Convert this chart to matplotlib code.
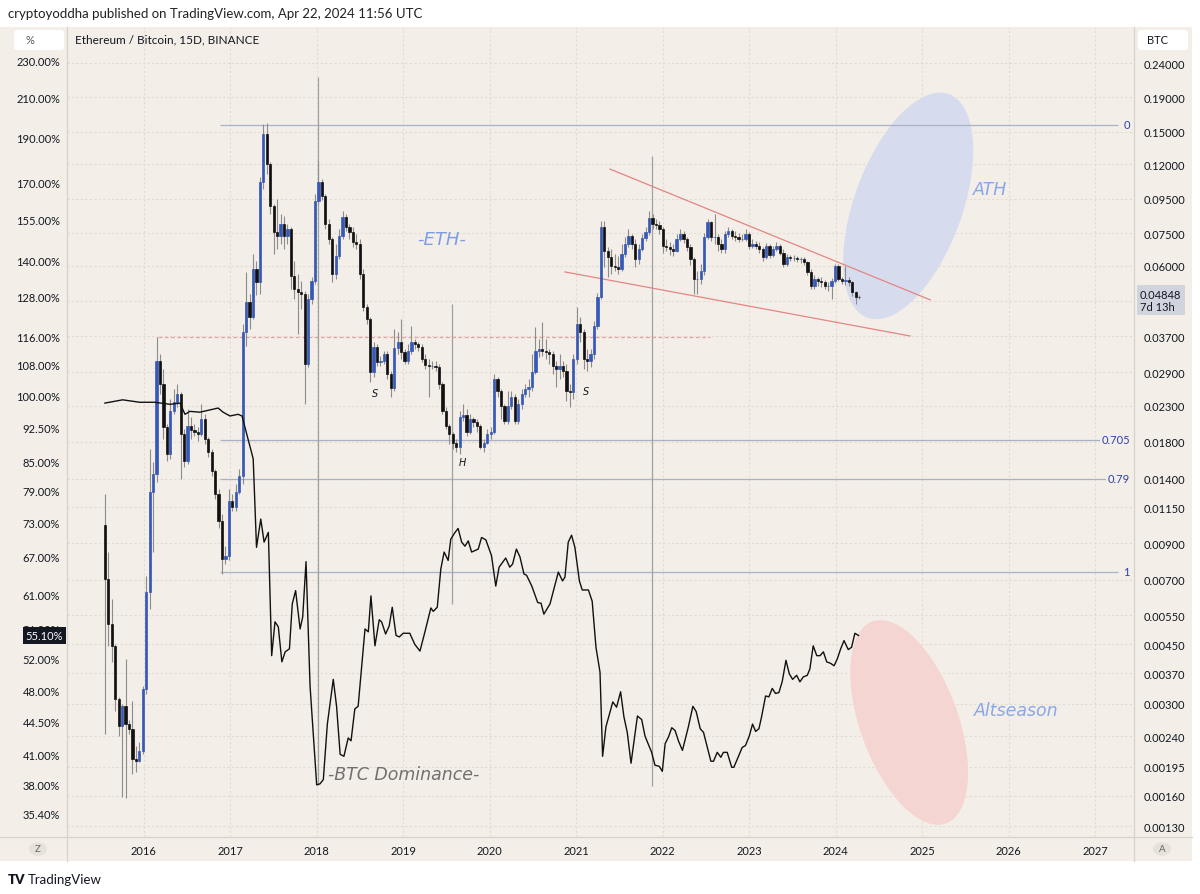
import numpy as np
import pandas as pd
import matplotlib
matplotlib.use("Agg")
import matplotlib.pyplot as plt
import matplotlib.dates as mdates
from matplotlib.patches import Ellipse, Rectangle, FancyBboxPatch, Circle
from matplotlib.lines import Line2D
from matplotlib.ticker import FixedLocator, NullLocator, FixedFormatter
from matplotlib.transforms import ScaledTranslation, blended_transform_factory

plt.rcParams['font.family'] = ['Lato', 'DejaVu Sans']

# ETH/BTC 15D candles (BTC)
first_open = 0.0102
close = [0.00705, 0.00518, 0.00446, 0.00310, 0.00258, 0.00296, 0.00262, 0.00253, 0.00206, 0.00203,
         0.00217, 0.00332, 0.00646, 0.0128, 0.0144, 0.0313, 0.0267, 0.0199, 0.0165, 0.0222,
         0.0236, 0.0249, 0.0190, 0.0158, 0.0200, 0.0195, 0.0193, 0.0190, 0.0210, 0.0183,
         0.0168, 0.0147, 0.0126, 0.0105, 0.00809, 0.00825, 0.0120, 0.0115, 0.0128, 0.0142,
         0.0381, 0.0468, 0.0423, 0.0587, 0.0537, 0.1063, 0.1476, 0.1203, 0.0902, 0.0755,
         0.0735, 0.0798, 0.0735, 0.0771, 0.0559, 0.0512, 0.0502, 0.0494, 0.0306, 0.0478,
         0.0540, 0.0934, 0.1063, 0.0967, 0.0798, 0.0720, 0.0567, 0.0641, 0.0735, 0.0838,
         0.0782, 0.0755, 0.0706, 0.0696, 0.0567, 0.0452, 0.0417, 0.0290, 0.0344, 0.0310,
         0.0313, 0.0328, 0.0286, 0.0260, 0.0341, 0.0356, 0.0332, 0.0313, 0.0334, 0.0356,
         0.0351, 0.0344, 0.0317, 0.0304, 0.0302, 0.0302, 0.0300, 0.0267, 0.0222, 0.0200,
         0.0190, 0.0179, 0.0174, 0.0213, 0.0216, 0.0192, 0.0210, 0.0206, 0.0200, 0.0174,
         0.0179, 0.0190, 0.0193, 0.0276, 0.0254, 0.0230, 0.0207, 0.0230, 0.0245, 0.0207,
         0.0233, 0.0249, 0.0258, 0.0262, 0.0290, 0.0334, 0.0339, 0.0334, 0.0332, 0.0328,
         0.0302, 0.0296, 0.0302, 0.0292, 0.0254, 0.0253, 0.0317, 0.0403, 0.0381, 0.0317,
         0.0313, 0.0328, 0.0397, 0.0485, 0.0782, 0.0664, 0.0637, 0.0599, 0.0595, 0.0587,
         0.0650, 0.0696, 0.0735, 0.0696, 0.0628, 0.0673, 0.0725, 0.0755, 0.0832, 0.0798,
         0.0793, 0.0771, 0.0688, 0.0683, 0.0673, 0.0664, 0.0720, 0.0745, 0.0720, 0.0683,
         0.0628, 0.0548, 0.0548, 0.0579, 0.0730, 0.0810, 0.0730, 0.0730, 0.0696, 0.0673,
         0.0745, 0.0760, 0.0735, 0.0730, 0.0720, 0.0720, 0.0745, 0.0688, 0.0696, 0.0688,
         0.0673, 0.0637, 0.0688, 0.0646, 0.0673, 0.0688, 0.0655, 0.0607, 0.0637, 0.0632,
         0.0632, 0.0628, 0.0628, 0.0615, 0.0575, 0.0522, 0.0548, 0.0540, 0.0537, 0.0522,
         0.0522, 0.0540, 0.0599, 0.0548, 0.0540, 0.0544, 0.0537, 0.0502, 0.0485, 0.04848]
high = [0.0126, 0.00848, 0.00615, 0.00452, 0.00314, 0.00300, 0.00408, 0.00268, 0.00306, 0.00225,
        0.00231, 0.00339, 0.00721, 0.0171, 0.0157, 0.0368, 0.0328, 0.0296, 0.0203, 0.0241,
        0.0258, 0.0267, 0.0253, 0.0196, 0.0225, 0.0213, 0.0203, 0.0199, 0.0233, 0.0218,
        0.0186, 0.0171, 0.0149, 0.0130, 0.0110, 0.00880, 0.0130, 0.0126, 0.0135, 0.0149,
        0.0403, 0.0573, 0.0494, 0.0650, 0.0619, 0.1101, 0.1580, 0.1590, 0.1220, 0.0915,
        0.0947, 0.0855, 0.0843, 0.0798, 0.0782, 0.0619, 0.0567, 0.0540, 0.0505, 0.0494,
        0.0556, 0.0980, 0.1228, 0.1085, 0.0980, 0.0826, 0.0730, 0.0696, 0.0771, 0.0872,
        0.0855, 0.0798, 0.0782, 0.0745, 0.0720, 0.0587, 0.0462, 0.0423, 0.0356, 0.0351,
        0.0324, 0.0334, 0.0334, 0.0292, 0.0389, 0.0381, 0.0417, 0.0339, 0.0351, 0.0397,
        0.0363, 0.0356, 0.0351, 0.0328, 0.0317, 0.0313, 0.0313, 0.0306, 0.0270, 0.0228,
        0.0203, 0.0193, 0.0183, 0.0222, 0.0233, 0.0225, 0.0218, 0.0213, 0.0210, 0.0203,
        0.0183, 0.0196, 0.0199, 0.0286, 0.0280, 0.0258, 0.0233, 0.0254, 0.0254, 0.0249,
        0.0241, 0.0258, 0.0267, 0.0276, 0.0328, 0.0394, 0.0363, 0.0408, 0.0363, 0.0339,
        0.0334, 0.0313, 0.0328, 0.0313, 0.0306, 0.0267, 0.0328, 0.0452, 0.0423, 0.0389,
        0.0339, 0.0339, 0.0411, 0.0498, 0.0815, 0.0815, 0.0683, 0.0673, 0.0650, 0.0641,
        0.0696, 0.0730, 0.0771, 0.0745, 0.0720, 0.0696, 0.0745, 0.0782, 0.0872, 0.0855,
        0.0826, 0.0815, 0.0782, 0.0720, 0.0706, 0.0696, 0.0745, 0.0771, 0.0760, 0.0730,
        0.0696, 0.0637, 0.0579, 0.0607, 0.0750, 0.0826, 0.0815, 0.0855, 0.0745, 0.0720,
        0.0760, 0.0782, 0.0771, 0.0760, 0.0750, 0.0745, 0.0771, 0.0755, 0.0720, 0.0711,
        0.0706, 0.0683, 0.0701, 0.0696, 0.0688, 0.0706, 0.0696, 0.0673, 0.0650, 0.0646,
        0.0646, 0.0641, 0.0637, 0.0637, 0.0619, 0.0587, 0.0563, 0.0556, 0.0556, 0.0544,
        0.0537, 0.0552, 0.0607, 0.0607, 0.0556, 0.0599, 0.0556, 0.0540, 0.0505, 0.0491]
low = [0.00244, 0.00446, 0.00400, 0.00286, 0.00240, 0.00159, 0.00158, 0.00244, 0.00185, 0.00188,
       0.00202, 0.00213, 0.00321, 0.00574, 0.00848, 0.0137, 0.0249, 0.0183, 0.0158, 0.0160,
       0.0218, 0.0228, 0.0140, 0.0151, 0.0155, 0.0183, 0.0187, 0.0181, 0.0187, 0.0177,
       0.0162, 0.0142, 0.0122, 0.0100, 0.00730, 0.00782, 0.00800, 0.0112, 0.0112, 0.0126,
       0.0135, 0.0347, 0.0389, 0.0417, 0.0491, 0.0494, 0.1014, 0.1123, 0.0855, 0.0650,
       0.0673, 0.0696, 0.0673, 0.0696, 0.0512, 0.0478, 0.0376, 0.0446, 0.0233, 0.0300,
       0.0462, 0.0529, 0.0915, 0.0940, 0.0771, 0.0696, 0.0537, 0.0548, 0.0628, 0.0720,
       0.0760, 0.0720, 0.0683, 0.0673, 0.0548, 0.0440, 0.0403, 0.0270, 0.0280, 0.0302,
       0.0302, 0.0306, 0.0276, 0.0245, 0.0254, 0.0328, 0.0317, 0.0306, 0.0306, 0.0328,
       0.0339, 0.0334, 0.0310, 0.0296, 0.0245, 0.0296, 0.0292, 0.0258, 0.0218, 0.0196,
       0.0177, 0.0171, 0.0168, 0.0165, 0.0207, 0.0187, 0.0190, 0.0199, 0.0193, 0.0171,
       0.0168, 0.0177, 0.0183, 0.0190, 0.0245, 0.0210, 0.0203, 0.0203, 0.0225, 0.0203,
       0.0203, 0.0225, 0.0244, 0.0245, 0.0254, 0.0286, 0.0321, 0.0324, 0.0317, 0.0306,
       0.0286, 0.0262, 0.0276, 0.0280, 0.0238, 0.0228, 0.0241, 0.0306, 0.0356, 0.0296,
       0.0292, 0.0300, 0.0317, 0.0389, 0.0478, 0.0595, 0.0556, 0.0567, 0.0579, 0.0567,
       0.0579, 0.0637, 0.0683, 0.0673, 0.0595, 0.0607, 0.0664, 0.0711, 0.0740, 0.0771,
       0.0771, 0.0745, 0.0655, 0.0664, 0.0646, 0.0641, 0.0659, 0.0711, 0.0701, 0.0664,
       0.0603, 0.0494, 0.0494, 0.0529, 0.0563, 0.0720, 0.0711, 0.0696, 0.0664, 0.0655,
       0.0655, 0.0730, 0.0720, 0.0711, 0.0706, 0.0711, 0.0711, 0.0673, 0.0678, 0.0673,
       0.0655, 0.0619, 0.0628, 0.0632, 0.0637, 0.0664, 0.0646, 0.0595, 0.0599, 0.0619,
       0.0619, 0.0615, 0.0611, 0.0603, 0.0563, 0.0512, 0.0512, 0.0522, 0.0519, 0.0512,
       0.0505, 0.0478, 0.0533, 0.0540, 0.0529, 0.0526, 0.0522, 0.0488, 0.0462, 0.0478]
candle_dates = pd.date_range("2015-07-22", "2024-04-09", periods=len(close))

# BTC dominance (%), left scale
dom_dates = ["2015-07-22", "2015-10-05", "2015-12-16",
             "2016-02-18", "2016-04-22", "2016-06-03", "2016-06-24", "2016-07-15", "2016-08-26",
             "2016-11-11", "2016-12-02", "2016-12-31",
             "2017-02-03", "2017-02-20", "2017-03-04", "2017-04-08", "2017-04-22", "2017-05-10",
             "2017-05-24", "2017-06-11", "2017-06-25", "2017-07-09", "2017-07-23", "2017-08-07",
             "2017-08-21", "2017-09-08", "2017-09-20", "2017-10-04", "2017-10-23", "2017-11-03",
             "2017-11-17", "2017-12-04",
             "2018-01-01", "2018-01-15", "2018-01-29", "2018-02-15", "2018-03-12", "2018-03-26",
             "2018-04-10", "2018-04-26", "2018-05-14", "2018-05-26", "2018-06-11", "2018-06-25",
             "2018-07-24", "2018-08-07", "2018-08-18", "2018-09-04", "2018-09-22", "2018-10-02",
             "2018-10-19", "2018-11-03", "2018-11-16", "2018-12-02", "2018-12-16",
             "2019-01-01", "2019-01-29", "2019-02-19", "2019-03-13", "2019-04-03", "2019-04-28",
             "2019-05-08", "2019-05-25", "2019-06-09", "2019-06-23", "2019-07-10", "2019-07-21",
             "2019-08-08", "2019-08-21", "2019-09-05", "2019-09-19", "2019-10-03", "2019-10-17",
             "2019-11-14", "2019-11-28", "2019-12-16",
             "2020-01-09", "2020-01-27", "2020-02-10", "2020-03-09", "2020-03-26", "2020-04-07",
             "2020-04-23", "2020-05-08", "2020-05-25", "2020-06-05", "2020-06-27", "2020-07-22",
             "2020-08-05", "2020-08-17", "2020-09-12", "2020-10-17", "2020-11-04", "2020-11-14",
             "2020-11-28", "2020-12-12", "2020-12-26",
             "2021-01-14", "2021-01-26", "2021-02-21", "2021-03-09", "2021-03-25", "2021-04-11",
             "2021-04-22", "2021-05-06", "2021-06-04", "2021-06-20", "2021-07-07", "2021-07-21",
             "2021-08-04", "2021-08-20", "2021-09-16", "2021-10-04", "2021-10-18", "2021-11-15",
             "2021-11-29", "2021-12-17", "2021-12-30",
             "2022-01-11", "2022-01-25", "2022-02-08", "2022-02-22", "2022-03-08", "2022-03-25",
             "2022-04-19", "2022-05-08", "2022-05-22", "2022-06-08", "2022-06-22", "2022-07-23",
             "2022-08-03", "2022-08-19", "2022-09-03", "2022-09-14", "2022-09-30", "2022-10-19",
             "2022-10-28", "2022-11-15", "2022-12-02", "2022-12-16",
             "2023-01-01", "2023-01-15", "2023-01-28", "2023-02-11", "2023-02-22", "2023-03-11",
             "2023-03-25", "2023-04-08", "2023-04-22", "2023-05-06", "2023-05-20", "2023-06-05",
             "2023-06-19", "2023-07-03", "2023-07-20", "2023-08-03", "2023-08-17", "2023-09-03",
             "2023-09-14", "2023-09-28", "2023-10-13", "2023-10-27", "2023-11-10", "2023-11-24",
             "2023-12-11", "2023-12-25",
             "2024-01-08", "2024-01-22", "2024-02-05", "2024-02-23", "2024-03-08", "2024-03-22",
             "2024-04-06"]
dom_values = [98.2, 99.0, 98.4,
              98.4, 97.9, 98.2, 95.5, 96.2, 96.0, 97.0, 96.0, 95.1,
              95.5, 95.1, 92.5, 85.5, 68.6, 73.6, 69.5, 71.2, 52.4, 57.0, 56.3, 51.6, 52.9, 53.3,
              59.6, 61.6, 56.0, 57.7, 66.2, 48.6,
              38.0, 38.1, 38.5, 44.2, 49.4, 46.2, 41.0, 40.8, 42.7, 42.4, 45.9, 46.2, 56.0, 55.6,
              60.8, 53.7, 57.3, 57.0, 55.3, 56.4, 59.1, 55.1, 54.9,
              55.4, 55.4, 53.9, 53.0, 55.6, 59.0, 58.5, 59.1, 65.0, 67.8, 66.4, 70.0, 71.2, 71.9,
              69.5, 68.8, 69.7, 67.8, 68.3, 70.3, 69.9,
              67.2, 62.3, 65.3, 66.8, 65.3, 65.8, 68.3, 67.0, 64.2, 64.0, 62.3, 59.8, 59.7, 58.1,
              59.6, 64.5, 63.1, 63.7, 69.5, 70.7, 68.6,
              63.1, 61.7, 61.7, 60.0, 53.5, 50.3, 40.8, 43.9, 46.7, 46.1, 47.9, 45.0, 43.3, 40.1,
              45.1, 44.7, 42.9, 41.2, 39.9, 39.8, 39.3,
              42.1, 42.8, 43.8, 43.5, 42.4, 41.4, 43.9, 46.2, 45.6, 43.7, 43.3, 40.3, 40.3, 41.2,
              40.7, 41.2, 41.2, 39.7, 39.7, 40.7, 41.7, 41.9,
              42.9, 44.2, 43.4, 43.7, 45.0, 47.4, 47.3, 48.3, 47.7, 47.8, 49.1, 51.8, 50.1, 49.4,
              49.9, 49.1, 49.7, 49.9, 50.7, 53.7, 52.4, 52.4, 52.9, 51.6, 51.4, 51.1,
              52.0, 53.3, 54.4, 53.2, 53.5, 55.4, 55.1]

right_ticks = [0.24, 0.19, 0.15, 0.12, 0.095, 0.075, 0.06, 0.047, 0.037, 0.029, 0.023, 0.018,
               0.014, 0.0115, 0.009, 0.007, 0.0055, 0.0045, 0.0037, 0.003, 0.0024, 0.00195,
               0.0016, 0.0013]
# the 0.047 level sits under the last-price label, so its text is not shown
right_labels = ["" if v == 0.047 else f"{v:.5f}" for v in right_ticks]
left_ticks = [230, 210, 190, 170, 155, 140, 128, 116, 108, 100, 92.5, 85, 79, 73, 67, 61, 56,
              52, 48, 44.5, 41, 38, 35.4]
years = list(range(2016, 2028))

fib_levels = ["0", "0.705", "0.79", "1"]
fib_prices = [0.1571, 0.01822, 0.01396, 0.00739]

BG = "#f3efe8"
BLUE = "#3658b6"
DARK = "#131722"
SEP = "#d8d3c9"
GRID = "#e1dcd2"

W, H = 1200, 895
fig = plt.figure(figsize=(12, 8.95), dpi=100, facecolor="white")
fig.patches.append(Rectangle((0, 1 - 862 / H), 1192 / W, (862 - 28) / H, transform=fig.transFigure,
                             facecolor=BG, edgecolor="none", zorder=-10))

ax = fig.add_axes([67 / W, 1 - 838 / H, (1133 - 67) / W, (838 - 28) / H])
ax.set_facecolor(BG)
ax.set_yscale("log")
ax.set_ylim(0.001206, 0.3070)
d2n = lambda s: mdates.date2num(pd.Timestamp(s))
ax.set_xlim(d2n("2015-02-12"), d2n("2027-06-09"))

# BTC dominance axis shares x, scale on the left
ax2 = ax.twinx()
ax.yaxis.tick_right()
ax.yaxis.set_label_position("right")
ax2.yaxis.tick_left()
ax2.yaxis.set_label_position("left")

ax.yaxis.set_major_locator(FixedLocator(right_ticks))
ax.yaxis.set_minor_locator(NullLocator())
ax.yaxis.set_major_formatter(FixedFormatter(right_labels))
ax.set_xticks([d2n(f"{y}-01-01") for y in years])
ax.set_xticklabels([str(y) for y in years])
ax.tick_params(axis="y", which="both", left=False, labelleft=False, right=True, labelright=True,
               length=0, pad=7.5, labelsize=8, labelcolor=DARK)
ax.tick_params(axis="x", length=0, pad=6, labelsize=8, labelcolor=DARK)
ax.grid(True, color=GRID, lw=0.8, linestyle=(0, (2, 2)))
ax.set_axisbelow(True)
for s in ax.spines.values():
    s.set_visible(False)

# drawings behind candles
def offset_ellipse(date, price, w, h, ang, color):
    tr = fig.dpi_scale_trans + ScaledTranslation(d2n(date), price, ax.transData)
    e = Ellipse((0, 0), w, h, angle=ang, transform=tr, facecolor=color, edgecolor="none", zorder=1)
    ax.add_patch(e)

offset_ellipse("2024-11-02", 0.0903, 1.08, 2.38, -20, "#d6dcee")
offset_ellipse("2024-11-06", 0.00264, 0.98, 2.15, 20, "#f4d5d2")

ax.hlines(fib_prices, d2n("2016-11-19"), d2n("2027-04-06"), color="#aab0c6", lw=0.9, zorder=2)
fib_x = d2n("2027-05-27")
for lab, p in zip(fib_levels, fib_prices):
    ax.text(fib_x, p, lab, ha="right", va="center", fontsize=8, color="#2d3fa6", zorder=3,
            bbox=dict(boxstyle="square,pad=0.15", fc=BG, ec="none"))

ax.hlines(0.0369, d2n("2016-03-01"), d2n("2022-07-19"), color="#e3a3a3", lw=0.9,
          linestyle=(0, (3, 2)), zorder=2)
ax.plot([d2n("2021-05-23"), d2n("2025-02-03")], [0.1162, 0.0475], color="#e58484", lw=0.9, zorder=2)
ax.plot([d2n("2020-11-14"), d2n("2024-11-10")], [0.0575, 0.0371], color="#e58484", lw=0.9, zorder=2)
ax.vlines(d2n("2018-01-07"), 0.00172, 0.2182, color="#a0a0a0", lw=0.9, zorder=2)
ax.vlines(d2n("2019-07-25"), 0.00594, 0.0462, color="#a0a0a0", lw=0.9, zorder=2)
ax.vlines(d2n("2021-11-17"), 0.00171, 0.127, color="#a0a0a0", lw=0.9, zorder=2)

# candles
xs = mdates.date2num(candle_dates)
closes = np.array(close)
opens = np.concatenate([[first_open], closes[:-1]])
hi = np.maximum(np.array(high), np.maximum(opens, closes))
lo = np.minimum(np.array(low), np.minimum(opens, closes))
colors = np.where(closes >= opens, BLUE, "#111111")
ax.vlines(xs, lo, hi, color="#8c8c8c", lw=0.8, zorder=3)
ax.bar(xs, np.abs(closes - opens), bottom=np.minimum(opens, closes), width=9.5,
       color=colors, edgecolor=colors, linewidth=0.5, zorder=4)

# BTC dominance line
ax2.set_yscale("log")
ax2.set_ylim(33.38, 250.2)
ax2.plot(mdates.date2num(pd.to_datetime(dom_dates)), dom_values, color="#111111", lw=1.0, zorder=5)
ax2.yaxis.set_major_locator(FixedLocator(left_ticks))
ax2.yaxis.set_minor_locator(NullLocator())
ax2.yaxis.set_major_formatter(FixedFormatter([f"{v:.2f}%" for v in left_ticks]))
ax2.tick_params(axis="y", which="both", left=True, labelleft=True, right=False, labelright=False,
                length=0, pad=5, labelsize=8, labelcolor=DARK)
for s in ax2.spines.values():
    s.set_visible(False)

# annotations
it = dict(style="italic", family="DejaVu Sans")
ax.text(d2n("2019-06-13"), 0.0720, "-ETH-", ha="center", va="center", fontsize=13, color="#7f9de6", **it)
ax.text(d2n("2025-10-14"), 0.1014, "ATH", ha="center", va="center", fontsize=12.5, color="#8aa6ea", **it)
ax.text(d2n("2026-02-01"), 0.00288, "Altseason", ha="center", va="center", fontsize=12.5, color="#8aa6ea", **it)
ax.text(d2n("2019-01-04"), 0.00186, "-BTC Dominance-", ha="center", va="center", fontsize=12.5,
        color="#707070", **it)
for d, p, s in [("2018-09-03", 0.0251, "S"), ("2019-09-10", 0.0157, "H"), ("2021-02-11", 0.0255, "S")]:
    ax.text(d2n(d), p, s, ha="center", va="center", fontsize=7, color=DARK, **it)

bt = blended_transform_factory(ax.transAxes, ax.transData)
ax.annotate("0.04848\n7d 13h", xy=(1, 0.04848), xycoords=bt, xytext=(5, 6), textcoords="offset points",
            ha="left", va="top", fontsize=8, color=DARK, linespacing=1.15, annotation_clip=False,
            bbox=dict(boxstyle="square,pad=0.3", fc="#d1d4dc", ec="none"), zorder=10)
bt2 = blended_transform_factory(ax2.transAxes, ax2.transData)
ax2.annotate("55.10%", xy=(0, 55.10), xycoords=bt2, xytext=(-3, 0), textcoords="offset points",
             ha="right", va="center", fontsize=8, color="white", annotation_clip=False,
             bbox=dict(boxstyle="square,pad=0.25", fc=DARK, ec="none"), zorder=10)

# chart frame and panel decorations (pixel layout)
def px(x, y):
    return x / W, 1 - y / H

for (x0, y0, x1, y1) in [(67, 28, 67, 862), (1134, 28, 1134, 862), (0, 838, 1192, 838)]:
    fig.add_artist(Line2D([px(x0, y0)[0], px(x1, y1)[0]], [px(x0, y0)[1], px(x1, y1)[1]],
                          transform=fig.transFigure, color=SEP, lw=0.9))

for (x0, y0, x1, y1, txt, tx) in [(14, 31, 64, 51, "%", 25), (1138, 31, 1188, 51, "BTC", 1147)]:
    fig.patches.append(FancyBboxPatch(px(x0, y1), (x1 - x0) / W, (y1 - y0) / H,
                                      boxstyle="round,pad=0,rounding_size=0.003",
                                      transform=fig.transFigure, fc="white", ec="none"))
    fig.text(*px(tx, 41), txt, ha="left", va="center", fontsize=8, color="#555" if txt == "%" else DARK)

for (cx, letter) in [(38, "Z"), (1162, "A")]:
    fig.patches.append(Circle(px(cx, 850), 0.0075, transform=fig.transFigure, fc="#e6e2da", ec="none"))
    fig.text(*px(cx, 850), letter, ha="center", va="center", fontsize=7, color="#666")

fig.text(*px(8, 14), "cryptoyoddha published on TradingView.com, Apr 22, 2024 11:56 UTC",
         ha="left", va="center", fontsize=9.5, color="#222")
fig.text(*px(75, 40), "Ethereum / Bitcoin, 15D, BINANCE", ha="left", va="center", fontsize=8.5, color=DARK)
fig.text(*px(8, 880), "TV", ha="left", va="center", fontsize=9.5, fontweight="heavy", color=DARK)
fig.text(*px(28, 880), "TradingView", ha="left", va="center", fontsize=9.5, color=DARK)

fig.savefig("out.png", dpi=100, facecolor="white")
